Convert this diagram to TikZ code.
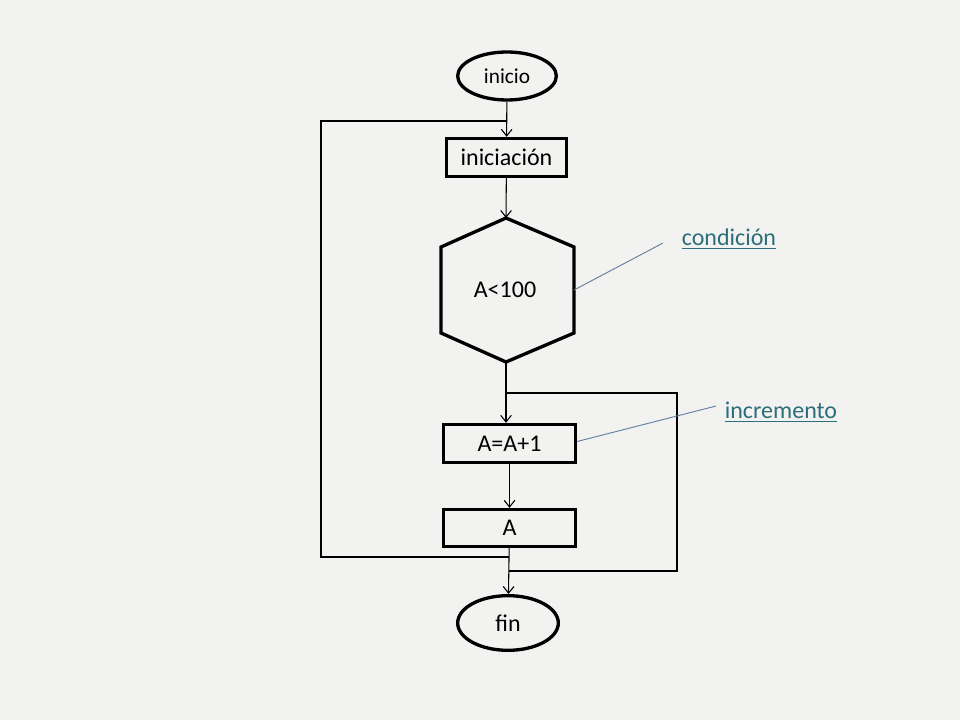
\documentclass[tikz,border=0pt]{standalone}
\usepackage{fontspec}
\setmainfont{Carlito}
\usepackage{tikz}
\usetikzlibrary{arrows,arrows.meta,shapes,positioning,calc}
\tikzset{>={Straight Barb[length=5pt,width=8pt]}}
\definecolor{paper}{RGB}{242,242,241}
\definecolor{notecol}{RGB}{45,110,122}
\definecolor{leadcol}{RGB}{100,128,160}
\tikzset{
  term/.style={draw,ellipse,line width=2.5pt,inner sep=0pt},
  proc/.style={draw,rectangle,line width=2.5pt,inner sep=0pt,font=\fontsize{18}{20}\selectfont},
  flow/.style={line width=0.8pt},
  lead/.style={draw=leadcol,line width=0.7pt},
  note/.style={text=notecol,font=\fontsize{18}{20}\selectfont},
}

\begin{document}
\begin{tikzpicture}[x=0.75pt,y=-0.75pt]
	\fill[paper] (0,0) rectangle (960,720);
	\useasboundingbox (0,0) rectangle (960,720);
	%Terminals
	\node[term,minimum width=74pt,minimum height=36pt,font=\fontsize{16}{18}\selectfont] (ini) at (507,76) {inicio};
	\node[term,minimum width=75.5pt,minimum height=41pt,font=\fontsize{18}{20}\selectfont] (fin) at (508,623) {fin};
	
	%Boxes
	\node[proc,minimum width=90pt,minimum height=28.5pt] (init) at (506.5,157.5) {iniciación};
	\node[proc,minimum width=99pt,minimum height=28.5pt] (inc) at (509.5,443.5) {A=A+1};
	\node[proc,minimum width=99pt,minimum height=27.75pt] (out) at (509.5,528) {A};
	
	%Hexagon
	\coordinate (htop) at (506,218);
	\coordinate (hbot) at (506,362);
	\coordinate (hrgt) at (574,290);
	\draw[line width=2.5pt,line join=miter] (htop) -- (574,247) -- (574,333) -- (hbot) -- (441,333) -- (441,247) -- cycle;
	\node[font=\fontsize{18}{20}\selectfont] (cond) at (505,290) {A<100};
	
	%Flow
	\draw[flow,->] (ini) -- (init);
	\draw[flow,->] (init) -- (htop);
	\draw[flow,->] (hbot) -- (hbot |- inc.north);
	\draw[flow,->] (inc) -- (out);
	\draw[flow,->] (out) -- (fin);
	
	%Loops
	\coordinate (L1) at (509,557);
	\coordinate (L2) at (507,121);
	\coordinate (lft) at (321,340);
	\draw[flow] (L1) -| (lft) |- (L2);
	\coordinate (R1) at (509,571);
	\coordinate (R2) at (506,393);
	\coordinate (rgt) at (677,480);
	\draw[flow] (R1) -| (rgt) |- (R2);
	
	%Notes
	\node[note] (ncond) at (729,239) {\underline{condición}};
	\node[note] (ninc) at (781,412) {\underline{incremento}};
	\coordinate (e1) at (663,243);
	\coordinate (e2) at (716,406);
	\draw[lead] (hrgt) -- (e1);
	\draw[lead] (inc.east) ++(0,-2) -- (e2);
\end{tikzpicture}
\end{document}
